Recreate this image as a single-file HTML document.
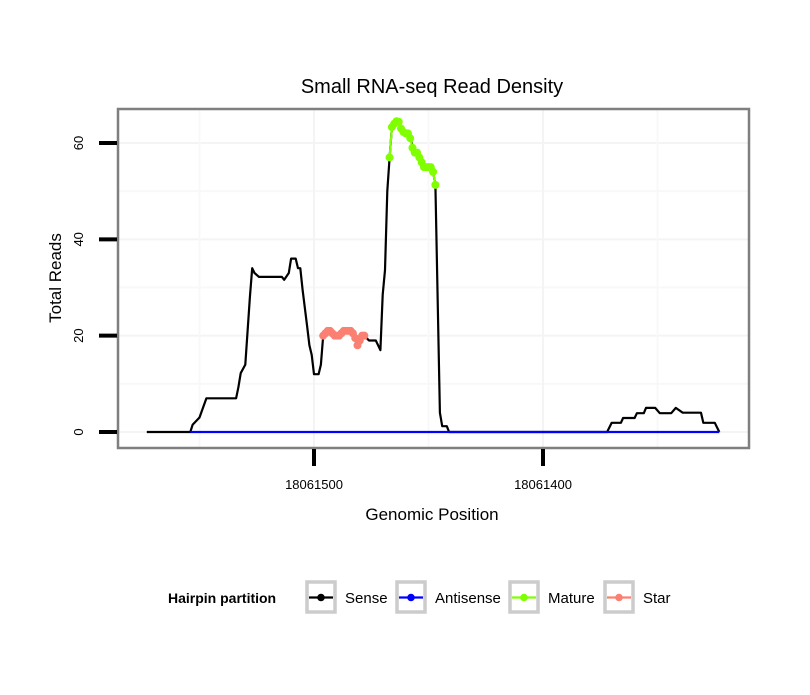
<!DOCTYPE html>
<html><head><meta charset="utf-8"><style>
body{margin:0;background:#fff;}
svg text{font-family:"Liberation Sans",sans-serif;}
</style></head><body>
<svg width="810" height="690" xmlns="http://www.w3.org/2000/svg">
<rect width="810" height="690" fill="#fff"/>
<g id="grid"></g>
<g id="lines"></g>
<g id="pts"></g>
<rect x="118" y="109" width="631" height="339" fill="none" stroke="#7f7f7f" stroke-width="2.5"/>
<g id="axes"></g>
<text x="432" y="93" font-size="20" text-anchor="middle">Small RNA-seq Read Density</text>
<text x="432" y="520" font-size="17" text-anchor="middle">Genomic Position</text>
<text transform="translate(61,278) rotate(-90)" font-size="17" text-anchor="middle">Total Reads</text>
<g>
<text x="168" y="603" font-size="14" font-weight="bold">Hairpin partition</text>
<g id="legend"></g>
</g>
</svg>
<script>
const base = 18061000;
const sensePos = [573,554,553,550,547,534,533,532,530,528,527,526,524,514,513,511,510,508,507,506,505,503,502,501,500,498,497,496,494,491,488,487,484,483,481,480,478,476,473,472,471,470,469,468,467,466,465,463,462,459,458,456,455,453,452,449,448,447,445,444,442,441,372,370,366,365,360,359,356,355,351,349,344,342,339,331,330,325,323];
const senseVal = [0,0,1.5,3,7,7,9.3,12.2,14,28,34,33,32.2,32.2,31.6,33,36,36,34,34,29.5,22,18,16,12,12,14,20,21,20,20.5,21,21,20,18,19,20,19,19,18,17,28.5,33.6,50,57,63.3,64,64.4,62.3,62,61,58,58,56,55,55,54,51.3,4,1.2,1.2,0,0,1.9,1.9,2.9,2.9,3.9,3.9,5,5,3.9,3.9,5,4,4,1.9,1.9,0];
const antiPos = [554,323];
const antiVal = [0,0];
const maturePos = [467,466,465,464,463,462,461,460,459,458,457,456,455,454,453,452,451,450,449,448,447];
const matureVal = [57,63.3,64,64.5,64.4,63,62.3,62,62,61,59,58,58,57,56,55,55,55,55,54,51.3];
const starPos = [496,495,494,493,492,491,490,489,488,487,486,485,484,483,482,481,480,479,478];
const starVal = [20,20.5,21,21,20.5,20,20,20,20.5,21,21,21,21,20.5,19.5,18,19,20,20];
const yTicks = [0,20,40,60];
const xTicks = [18061500,18061400];
const xTickLabels = ["18061500","18061400"];
const legendLabels = ["Sense","Antisense","Mature","Star"];
const legendColors = ["#000000","#0000ff","#7fff00","#fa8072"];

const NS="http://www.w3.org/2000/svg";
function X(p){return 314 + (18061500 - p)*2.29;}
function Y(v){return 432 - v*4.817;}
function mk(tag,attrs,parent){const e=document.createElementNS(NS,tag);for(const k in attrs)e.setAttribute(k,attrs[k]);parent.appendChild(e);return e;}
const grid=document.getElementById('grid');
[10,30,50].forEach(v=>{const l=mk('line',{x1:119,x2:748,y1:Y(v),y2:Y(v),stroke:'#f8f8f8','stroke-width':2},grid);});
yTicks.forEach(v=>{const l=mk('line',{x1:119,x2:748,y1:Y(v),y2:Y(v),stroke:'#f4f4f4','stroke-width':2},grid);});
[18061550,18061450,18061350].forEach(p=>{const l=mk('line',{x1:X(p),x2:X(p),y1:110,y2:447,stroke:'#f8f8f8','stroke-width':2},grid);});
xTicks.forEach(p=>{const l=mk('line',{x1:X(p),x2:X(p),y1:110,y2:447,stroke:'#f4f4f4','stroke-width':2},grid);});
const lines=document.getElementById('lines');
function path(pos,val,color,name){const d=pos.map((p,i)=>(i?'L':'M')+X(base+p).toFixed(1)+','+Y(val[i]).toFixed(1)).join('');const e=mk('path',{d:d,fill:'none',stroke:color,'stroke-width':2.2,'stroke-linejoin':'round'},lines);}
path(sensePos,senseVal,'#000','sense-line');
path(antiPos,antiVal,'#0000ff','antisense-line');
path(maturePos,matureVal,'#7fff00','mature-line');
path(starPos,starVal,'#fa8072','star-line');
const pts=document.getElementById('pts');
maturePos.forEach((p,i)=>{const c=mk('circle',{cx:X(base+p),cy:Y(matureVal[i]),r:4,fill:'#7fff00'},pts);});
starPos.forEach((p,i)=>{const c=mk('circle',{cx:X(base+p),cy:Y(starVal[i]),r:4,fill:'#fa8072'},pts);});
const axes=document.getElementById('axes');
yTicks.forEach(v=>{const l=mk('line',{x1:99,x2:117,y1:Y(v),y2:Y(v),stroke:'#000','stroke-width':4},axes);
const t=mk('text',{transform:`translate(83,${Y(v)}) rotate(-90)`,'font-size':13,'text-anchor':'middle'},axes);t.textContent=String(v);});
xTicks.forEach((p,i)=>{const l=mk('line',{x1:X(p),x2:X(p),y1:449,y2:466,stroke:'#000','stroke-width':4},axes);
const t=mk('text',{x:X(p),y:489,'font-size':13,'text-anchor':'middle'},axes);t.textContent=xTickLabels[i];});
const lg=document.getElementById('legend');
const keyX=[305,395,508,603];
legendLabels.forEach((lab,i)=>{const g=mk('g',{},lg);
mk('rect',{x:keyX[i]+2,y:582,width:28,height:30,fill:'#fff',stroke:'#cccccc','stroke-width':3.5},g);
mk('line',{x1:keyX[i]+4,x2:keyX[i]+28,y1:597.5,y2:597.5,stroke:legendColors[i],'stroke-width':2.2},g);
mk('circle',{cx:keyX[i]+16,cy:597.5,r:3.8,fill:legendColors[i]},g);
const t=mk('text',{x:keyX[i]+40,y:603,'font-size':15},g);t.textContent=lab;});
</script>
</body></html>
